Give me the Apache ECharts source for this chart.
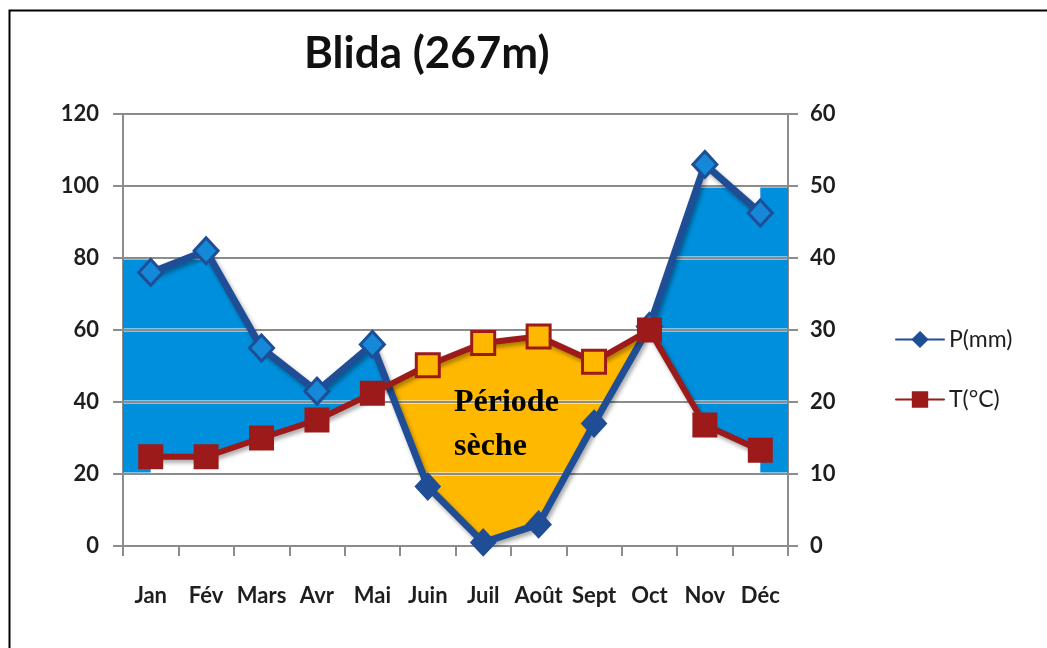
<!DOCTYPE html>
<html>
<head>
<meta charset="utf-8">
<title>Blida (267m)</title>
<script src="https://cdn.jsdelivr.net/npm/echarts@6/dist/echarts.min.js"></script>
<style>
    html, body { margin: 0; padding: 0; background: #fff; }
    #chart { width: 1047px; height: 648px; }
</style>
</head>
<body>
<div id="chart"></div>
<script>
// Diagramme ombrothermique de Blida
const months = ['Jan', 'Fév', 'Mars', 'Avr', 'Mai', 'Juin', 'Juil', 'Août', 'Sept', 'Oct', 'Nov', 'Déc'];
const precip = [76, 82, 55, 43, 56, 16.5, 1, 6, 34, 61, 106, 92.5];            // P(mm)
const temp = [12.4, 12.4, 15, 17.5, 21.2, 25.1, 28.2, 29.1, 25.6, 30, 16.8, 13.3]; // T(°C)

const pMin = 0, pMax = 120, pStep = 20;
const tMin = 0, tMax = 60, tStep = 10;
const humidFloor = 20;

const FONT = 'Lato';
const BLUE = '#1f4e96';
const RED = '#9c1a1a';
const HUMID = '#008fdc';
const DRY = '#ffb800';

const n = months.length;
const pScale = pMax / tMax;               // P = 2T
const tInP = temp.map(v => v * pScale);

function at(arr, x) {
    const i = Math.max(0, Math.min(Math.floor(x), n - 2));
    return arr[i] + (arr[i + 1] - arr[i]) * (x - i);
}

function level(v) {
    return months.map(() => v);
}

function crossings(a, b) {
    const out = [];
    for (let i = 0; i < n - 1; i++) {
        const d0 = a[i] - b[i], d1 = a[i + 1] - b[i + 1];
        if (d0 * d1 < 0) out.push(i + d0 / (d0 - d1));
    }
    return out;
}

// humid / dry stretches between the points where P meets 2T
function seasonRuns() {
    const cuts = [0, ...crossings(precip, tInP), n - 1];
    const runs = [];
    for (let k = 0; k < cuts.length - 1; k++) {
        const a = cuts[k], b = cuts[k + 1];
        const mid = (a + b) / 2;
        const humid = at(precip, mid) > at(tInP, mid);
        if (humid) {
            let top = 0;
            for (let i = Math.ceil(a); i <= Math.floor(b); i++) top = Math.max(top, precip[i]);
            runs.push({ a, b, humid, top: precip, bot: tInP, floor: humidFloor,
                cap: Math.floor(top / pStep) * pStep, color: HUMID });
        } else {
            runs.push({ a, b, humid, top: tInP, bot: precip, floor: pMin, cap: pMax, color: DRY });
        }
    }
    return runs;
}
const runs = seasonRuns();

function isDry(i) {
    return runs.some(r => !r.humid && i > r.a && i < r.b);
}

function bandPolys(samples) {
    const polys = [];
    let cur = null;
    samples.forEach((s, k) => {
        const d = s.top - s.bot;
        const p = samples[k - 1];
        if (p && s.x > p.x) {
            const dp = p.top - p.bot;
            if (dp * d < 0) {
                const f = dp / (dp - d);
                const y = p.top + (s.top - p.top) * f;
                if (!cur) cur = [];
                cur.push({ x: p.x + (s.x - p.x) * f, top: y, bot: y });
            }
        }
        if (d >= 0) {
            if (!cur) cur = [];
            cur.push(s);
        } else if (cur) {
            polys.push(cur);
            cur = null;
        }
    });
    if (cur) polys.push(cur);
    return polys.filter(c => c.length > 1);
}

// fill painted band by band, the grid lines stay visible between them
function renderFills(params, api) {
    const gap = 0.45;
    const children = [];
    runs.forEach(run => {
        for (let lo = run.floor; lo < run.cap; lo += pStep) {
            const hi = lo + pStep;
            const topLim = hi - gap, botLim = lo + gap;
            let xs = [run.a, run.b];
            for (let i = Math.ceil(run.a); i <= Math.floor(run.b); i++) xs.push(i);
            [run.top, run.bot].forEach(arr => {
                [topLim, botLim].forEach(v => {
                    crossings(arr, level(v)).forEach(x => {
                        if (x > run.a && x < run.b) xs.push(x);
                    });
                });
            });
            xs = Array.from(new Set(xs)).sort((u, w) => u - w);
            let samples = xs.map(x => ({
                x,
                top: Math.min(at(run.top, x), topLim),
                bot: Math.max(at(run.bot, x), botLim)
            }));
            if (run.humid && run.a === 0) {
                samples = [{ x: -0.5, top: topLim, bot: botLim }, { x: 0, top: topLim, bot: botLim }].concat(samples);
            }
            if (run.humid && run.b === n - 1) {
                samples = samples.concat([{ x: n - 1, top: topLim, bot: botLim }, { x: n - 0.5, top: topLim, bot: botLim }]);
            }
            bandPolys(samples).forEach(poly => {
                const pts = poly.map(s => api.coord([s.x, s.top]))
                    .concat(poly.slice().reverse().map(s => api.coord([s.x, s.bot])));
                children.push({
                    type: 'polygon',
                    shape: { points: pts },
                    style: { fill: run.color }
                });
            });
        }
    });
    return { type: 'group', children };
}

const shadow = {
    shadowColor: 'rgba(0,0,0,0.35)',
    shadowBlur: 4,
    shadowOffsetX: 2,
    shadowOffsetY: 3
};

const labelStyle = {
    color: '#1e1e1e',
    fontFamily: FONT,
    fontWeight: 'bold',
    fontSize: 22
};

const gridColor = '#8c8c8c';

let chart = echarts.init(document.getElementById('chart'), null, { renderer: 'canvas' });

let option = {
    animation: false,
    backgroundColor: '#fff',
    title: {
        text: 'Blida (267m)',
        left: 299,
        top: 27,
        textStyle: {
            fontFamily: FONT,
            fontWeight: 'bold',
            fontSize: 44,
            color: '#111'
        }
    },
    legend: {
        orient: 'vertical',
        left: 890,
        top: 323,
        itemWidth: 48,
        itemHeight: 18,
        itemGap: 37,
        textStyle: {
            fontFamily: FONT,
            fontSize: 23,
            color: '#1e1e1e'
        },
        data: ['P(mm)', 'T(°C)']
    },
    grid: {
        left: 123,
        right: 259,
        top: 114,
        bottom: 102,
        containLabel: false
    },
    xAxis: [
        {
            type: 'category',
            data: months,
            boundaryGap: true,
            axisLine: { lineStyle: { color: gridColor, width: 2 } },
            axisTick: { show: true, length: 10, lineStyle: { color: gridColor, width: 2 } },
            axisLabel: Object.assign({ interval: 0, margin: 39 }, labelStyle)
        },
        {
            type: 'value',
            min: -0.5,
            max: n - 0.5,
            show: false
        }
    ],
    yAxis: [
        {
            type: 'value',
            min: pMin,
            max: pMax,
            interval: pStep,
            axisLine: { show: true, onZero: false, lineStyle: { color: gridColor, width: 2 } },
            axisTick: { show: true, length: 10, lineStyle: { color: gridColor, width: 2 } },
            axisLabel: Object.assign({ margin: 24 }, labelStyle),
            splitLine: { show: true, lineStyle: { color: gridColor, width: 2 } }
        },
        {
            type: 'value',
            min: tMin,
            max: tMax,
            interval: tStep,
            position: 'right',
            axisLine: { show: true, onZero: false, lineStyle: { color: gridColor, width: 2 } },
            axisTick: { show: true, length: 10, lineStyle: { color: gridColor, width: 2 } },
            axisLabel: Object.assign({ margin: 22 }, labelStyle),
            splitLine: { show: false }
        }
    ],
    graphic: [
        {
            type: 'rect',
            left: 7,
            top: 8,
            shape: { width: 1100, height: 700 },
            style: { fill: 'none', stroke: '#000', lineWidth: 2 }
        },
        {
            type: 'text',
            left: 454,
            top: 381,
            z: 10,
            style: {
                text: 'Période\nsèche',
                font: 'bold 32px "Liberation Serif", "DejaVu Serif", serif',
                lineHeight: 44,
                fill: '#000'
            }
        }
    ],
    series: [
        {
            name: 'fills',
            type: 'custom',
            xAxisIndex: 1,
            yAxisIndex: 0,
            z: 1,
            silent: true,
            renderItem: renderFills,
            data: [[0, 0]]
        },
        {
            name: 'P(mm)',
            type: 'line',
            xAxisIndex: 0,
            yAxisIndex: 0,
            z: 3,
            symbol: 'diamond',
            symbolSize: [24, 26],
            color: BLUE,
            lineStyle: Object.assign({ color: BLUE, width: 7, cap: 'round', join: 'round' }, shadow),
            itemStyle: { color: BLUE, borderColor: BLUE, borderWidth: 2 },
            data: precip.map((v, i) => ({
                value: v,
                itemStyle: isDry(i)
                    ? { color: BLUE, borderColor: BLUE }
                    : { color: '#1589d8', borderColor: BLUE, borderWidth: 3 }
            }))
        },
        {
            name: 'T(°C)',
            type: 'line',
            xAxisIndex: 0,
            yAxisIndex: 1,
            z: 4,
            symbol: 'rect',
            symbolSize: 23,
            color: RED,
            lineStyle: Object.assign({ color: RED, width: 6, cap: 'round', join: 'round' }, shadow),
            itemStyle: { color: RED, borderColor: RED, borderWidth: 2 },
            data: temp.map((v, i) => ({
                value: v,
                itemStyle: isDry(i)
                    ? { color: DRY, borderColor: RED, borderWidth: 3 }
                    : { color: RED, borderColor: RED }
            }))
        }
    ]
};
chart.setOption(option, true);
</script>
</body>
</html>
